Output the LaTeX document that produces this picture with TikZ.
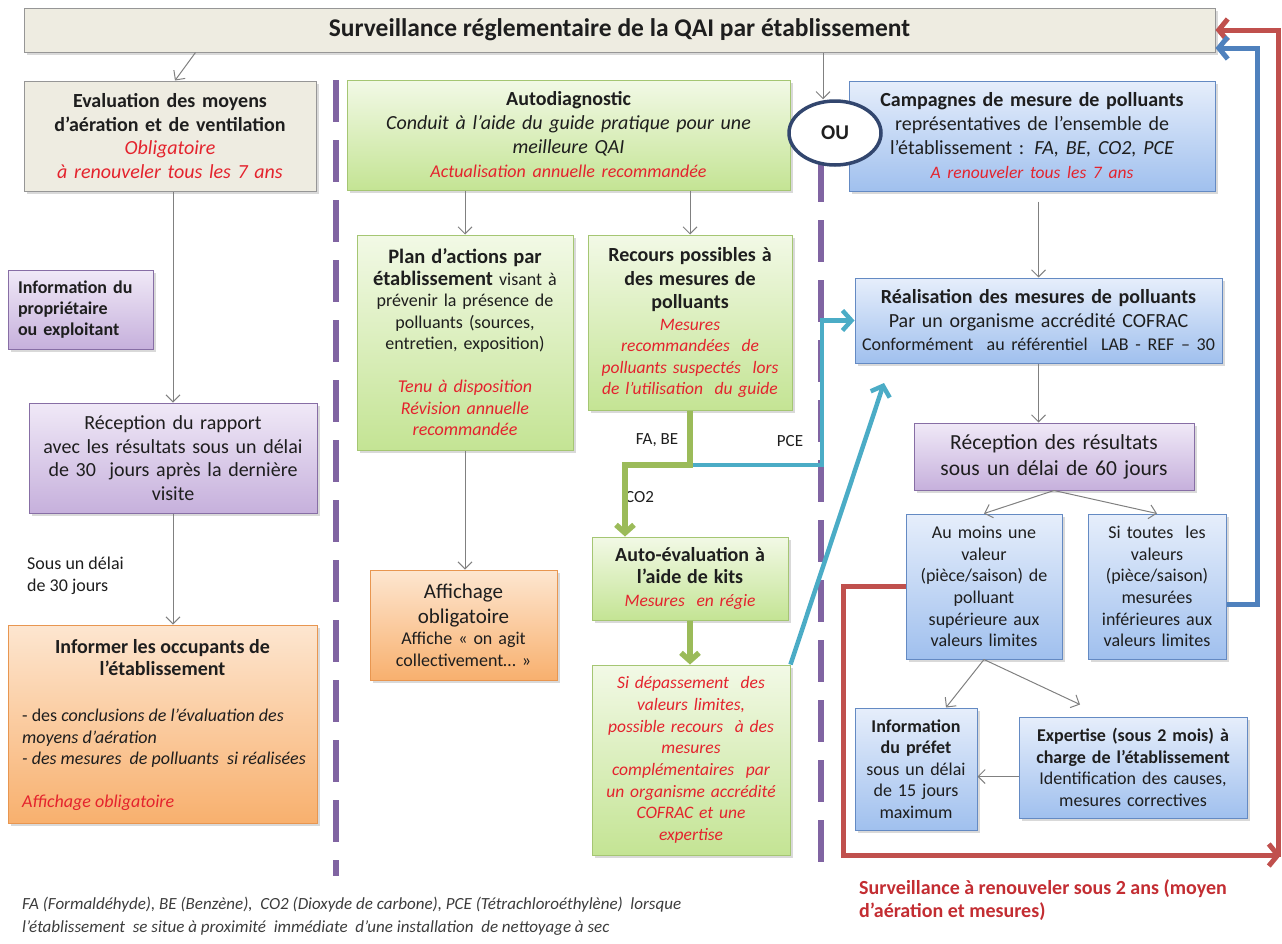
\documentclass[tikz,border=0pt]{standalone}
\usepackage{fontspec}
\setmainfont{Carlito}
\usetikzlibrary{arrows.meta,shapes.geometric,shadows}
\definecolor{txt}{RGB}{30,30,30}
\definecolor{redt}{RGB}{228,35,45}
\definecolor{redb}{RGB}{195,45,50}
\definecolor{gT}{RGB}{242,249,230}
\definecolor{gBo}{RGB}{196,228,148}
\definecolor{gB}{RGB}{165,198,115}
\definecolor{bT}{RGB}{230,238,251}
\definecolor{bBo}{RGB}{160,192,238}
\definecolor{bB}{RGB}{100,138,195}
\definecolor{pT}{RGB}{240,233,247}
\definecolor{pBo}{RGB}{198,176,220}
\definecolor{pB}{RGB}{135,110,165}
\definecolor{oT}{RGB}{253,230,208}
\definecolor{oBo}{RGB}{248,176,110}
\definecolor{oB}{RGB}{232,150,80}
\definecolor{beige}{RGB}{238,236,225}
\definecolor{beB}{RGB}{150,150,150}
\definecolor{pur}{RGB}{128,100,162}
\definecolor{redA}{RGB}{192,80,77}
\definecolor{blueA}{RGB}{79,129,189}
\definecolor{tealA}{RGB}{75,172,198}
\definecolor{greenA}{RGB}{155,187,89}
\definecolor{grayA}{RGB}{128,128,128}
\definecolor{ouB}{RGB}{50,70,110}
\definecolor{fnc}{RGB}{60,60,60}
\newcommand{\setfs}[2]{\fontsize{#1}{#2}\selectfont}
\tikzset{
  box/.style={rectangle, inner sep=0pt, align=center, text=txt, line width=1pt,
    drop shadow={shadow xshift=2.5pt, shadow yshift=-2.5pt, opacity=0.3}},
  gbox/.style={box, draw=gB, top color=gT, bottom color=gBo},
  bbox/.style={box, draw=bB, top color=bT, bottom color=bBo},
  pbox/.style={box, draw=pB, top color=pT, bottom color=pBo},
  obox/.style={box, draw=oB, top color=oT, bottom color=oBo},
  bebox/.style={box, draw=beB, fill=beige},
  plain/.style={inner sep=0pt, text=txt},
  arr/.style={draw=grayA, line width=1pt, -{Straight Barb[length=7pt,width=14pt]}},
  rarr/.style={draw=redA, line width=5pt, -{Straight Barb[length=9pt,width=22pt]}},
  barr/.style={draw=blueA, line width=5pt, -{Straight Barb[length=9pt,width=22pt]}},
  tarr/.style={draw=tealA, line width=4.5pt, -{Straight Barb[length=9pt,width=20pt]}},
  garr/.style={draw=greenA, line width=5.5pt, -{Straight Barb[length=8pt,width=18pt]}},
  pdash/.style={draw=pur, line width=6pt, dash pattern=on 42pt off 18pt},
}
\begin{document}
\begin{tikzpicture}[x=1pt,y=-1pt]
\useasboundingbox (0,0) rectangle (1282,943);

% dashed separators
\coordinate (d1a) at (336,80);
\coordinate (d1b) at (336,876);
\coordinate (d2a) at (821,160);
\coordinate (d2b) at (821,876);
\draw[pdash] (d1a) -- (d1b);
\draw[pdash] (d2a) -- (d2b);

% banner
\node[bebox, minimum width=1191pt, minimum height=44pt, font=\setfs{25.5}{28}\bfseries] (banner) at (619.5,30)
  {Surveillance réglementaire de la QAI par établissement};

% left column
\node[bebox, minimum width=292pt, minimum height=110pt, text width=288pt, font=\setfs{20}{23.5}] (eval) at (170,136)
  {{\bfseries Evaluation des moyens\\ d’aération et de ventilation\par}
   \leavevmode{\itshape\color{redt}Obligatoire\\ à renouveler tous les 7 ans\par}};

\node[pbox, minimum width=145pt, minimum height=79pt, text width=125pt, align=left, font=\setfs{18}{21}\bfseries] (infoprop) at (80.5,309.5)
  {Information du\\ propriétaire\\ ou exploitant};

\node[pbox, minimum width=288pt, minimum height=110pt, text width=284pt, font=\setfs{20}{23.5}] (recept1) at (173,458)
  {Réception du rapport\\ avec les résultats sous un délai\\ de 30~ jours après la dernière\\ visite};

\node[plain, anchor=north west, align=left, font=\setfs{18}{21.5}] (sous) at (27,557)
  {Sous un délai\\ de 30 jours};

\node[obox, minimum width=309pt, minimum height=198pt] (informer) at (162.5,724) {};
\node[plain, align=center, font=\setfs{20}{21.5}\bfseries] (infT) at (162.5,657.5)
  {Informer les occupants de\\ l’établissement};
\node[plain, anchor=north west, align=left, font=\setfs{18}{21.5}] (infL) at (22,709)
  {- des \textit{conclusions de l’évaluation des}\\ \textit{moyens d’aération}\\ \textit{- des mesures~ de polluants~ si réalisées}\\[21.5pt] \textcolor{redt}{\itshape Affichage obligatoire}};

% middle column
\node[gbox, minimum width=443pt, minimum height=110pt, text width=439pt, font=\setfs{20}{24}] (autodiag) at (568.5,135)
  {{\bfseries Autodiagnostic\par}
   {\itshape Conduit à l’aide du guide pratique pour une\\ meilleure QAI\par}
   \leavevmode{\setfs{18}{24}\itshape\color{redt}Actualisation annuelle recommandée\par}};

\node[gbox, minimum width=216pt, minimum height=215pt, text width=214pt, font=\setfs{18}{21.5}] (plan) at (465,342.5)
  {{\setfs{20.5}{23}\bfseries Plan d’actions par\par}
   {\setfs{20.5}{23}\bfseries établissement} visant à\\ prévenir la présence de\\ polluants (sources,\\ entretien, exposition)\par
   \vspace{21.5pt}
   \leavevmode{\itshape\color{redt}Tenu à disposition\\ Révision annuelle\\ recommandée\par}};

\node[gbox, minimum width=204pt, minimum height=175pt, text width=202pt, font=\setfs{17.5}{21.5}] (recours) at (690,322.5)
  {{\setfs{20}{23.5}\bfseries Recours possibles à\\ des mesures de\\ polluants\par}
   \leavevmode{\itshape\color{redt}Mesures\\ recommandées~ de\\ polluants suspectés~ lors\\ de l’utilisation~ du guide\par}};

\node[obox, minimum width=187pt, minimum height=110pt, text width=183pt, font=\setfs{18}{21.5}] (affich) at (463.5,625)
  {{\setfs{21}{25}Affichage\\ obligatoire\par}
   Affiche « on agit\\ collectivement… »\par};

\node[gbox, minimum width=196pt, minimum height=83pt, text width=194pt, font=\setfs{17.5}{23}] (autoeval) at (690,578.5)
  {{\setfs{20}{21.5}\bfseries Auto-évaluation à\\ l’aide de kits\par}
   \leavevmode{\itshape\color{redt}Mesures~ en régie\par}};

\node[gbox, minimum width=198pt, minimum height=190pt, text width=196pt, font=\setfs{17.5}{21.7}\itshape, text=redt] (depass) at (691,760)
  {Si dépassement~ des\\ valeurs limites,\\ possible recours~ à des\\ mesures\\ complémentaires~ par\\ un organisme accrédité\\ COFRAC et une\\ expertise};

% right column
\node[bbox, minimum width=366pt, minimum height=110pt, text width=362pt, font=\setfs{20}{24}] (campagne) at (1032,136)
  {{\bfseries Campagnes de mesure de polluants\par}
   représentatives de l’ensemble de\\ l’établissement : \textit{FA, BE, CO2, PCE}\par
   \leavevmode{\setfs{17.5}{24}\itshape\color{redt}A renouveler tous les 7 ans\par}};

\node[ellipse, draw=ouB, line width=3.5pt, fill=white, minimum width=92pt, minimum height=64pt, inner sep=0pt, text=txt, font=\setfs{21}{24}\bfseries] (OU) at (835,133)
  {OU};

\node[bbox, minimum width=367pt, minimum height=85pt, text width=363pt, font=\setfs{20}{23.5}] (realis) at (1038.5,320.5)
  {{\bfseries Réalisation des mesures de polluants\par}
   Par un organisme accrédité COFRAC\par
   {\setfs{18}{23.5}Conformément~ au référentiel~ LAB - REF – 30\par}};

\node[pbox, minimum width=280pt, minimum height=67pt, text width=276pt, font=\setfs{21.5}{26}] (recept2) at (1054,456.5)
  {Réception des résultats\\ sous un délai de 60 jours};

\node[bbox, minimum width=156pt, minimum height=145pt, text width=152pt, font=\setfs{18}{21.7}] (aumoins) at (984,586.5)
  {Au moins une\\ valeur\\ (pièce/saison) de\\ polluant\\ supérieure aux\\ valeurs limites};

\node[bbox, minimum width=138pt, minimum height=145pt, text width=134pt, font=\setfs{18}{21.7}] (sitoutes) at (1157,586.5)
  {Si toutes~ les\\ valeurs\\ (pièce/saison)\\ mesurées\\ inférieures aux\\ valeurs limites};

\node[bbox, minimum width=122pt, minimum height=122pt, text width=120pt, font=\setfs{18}{21.5}] (prefet) at (916,769)
  {{\bfseries Information\\ du préfet\par} sous un délai\\ de 15 jours\\ maximum};

\node[bbox, minimum width=228pt, minimum height=101pt, text width=224pt, font=\setfs{18}{21.5}] (expertise) at (1133,767.5)
  {{\bfseries Expertise (sous 2 mois) à\\ charge de l’établissement\par} Identification des causes,\\ mesures correctives};

% labels
\node[plain, font=\setfs{17}{20}] (lFA) at (657,440) {FA, BE};
\node[plain, font=\setfs{17}{20}] (lPCE) at (790,441) {PCE};
\node[plain, anchor=west, font=\setfs{17}{20}] (lCO2) at (625,497) {CO2};

\node[plain, anchor=north west, align=left, text=redb, font=\setfs{20}{23}\bfseries] (surv) at (859,879)
  {Surveillance à renouveler sous 2 ans (moyen\\ d’aération et mesures)};

\node[plain, anchor=west, text=fnc, font=\setfs{17}{20}\itshape] (fn1) at (22,905)
  {FA (Formaldéhyde), BE (Benzène),~ CO2 (Dioxyde de carbone), PCE (Tétrachloroéthylène)~ lorsque};
\node[plain, anchor=west, text=fnc, font=\setfs{17}{20}\itshape] (fn2) at (22,928)
  {l’établissement~ se situe à proximité~ immédiate~ d’une installation~ de nettoyage à sec};

% thin connectors
\draw[arr] ([xshift=-424pt]banner.south) -- ([xshift=5pt]eval.north);
\draw[arr] ([xshift=-12pt]OU.north |- banner.south) -- ([xshift=-12pt]OU.north);
\draw[arr] (eval.south -| recept1.north) -- (recept1.north);
\draw[arr] (recept1.south) -- (recept1.south |- informer.north);
\draw[arr] (autodiag.south -| plan.north) -- (plan.north);
\draw[arr] (autodiag.south -| recours.north) -- (recours.north);
\draw[arr] (plan.south) -- (plan.south |- affich.north);
\draw[arr] ([yshift=-10pt]campagne.south -| realis.north) -- (realis.north);
\draw[arr] (realis.south) -- (realis.south |- recept2.north);
\draw[arr] (recept2.south) -- (aumoins.north);
\draw[arr] (recept2.south) -- (sitoutes.north);
\draw[arr] (aumoins.south) -- ([xshift=30pt]prefet.north);
\draw[arr] (aumoins.south) -- ([xshift=-53pt,yshift=12pt]expertise.north);
\draw[arr] ([yshift=-9pt]expertise.west) -- ([yshift=-9pt]expertise.west -| prefet.east);

% green / teal
\coordinate (gj) at (690,465);
\coordinate (gk) at (625,465);
\coordinate (tj) at (822,465);
\coordinate (tdiag) at (884,383);
\draw[tarr] (gj) -- (tj) |- (realis.west);
\draw[garr] (recours.south) -- (gj) -- (gk) -- (gk |- autoeval.north);
\draw[garr] (autoeval.south) -- (autoeval.south |- depass.north);
\draw[tarr] (depass.north east) -- (tdiag);

% red / blue loops
\coordinate (rc1) at (843,855);
\coordinate (rc2) at (1281,855);
\coordinate (rb) at (1278,857);
\coordinate (bt) at (1257,48);
\draw[rarr] (aumoins.west) -| (rc1) -- (rc2);
\draw[rarr] (rb) |- (banner.east);
\draw[barr] ([yshift=-18pt]sitoutes.east) -| (bt) -- ([yshift=-18pt]banner.east);
\end{tikzpicture}
\end{document}
